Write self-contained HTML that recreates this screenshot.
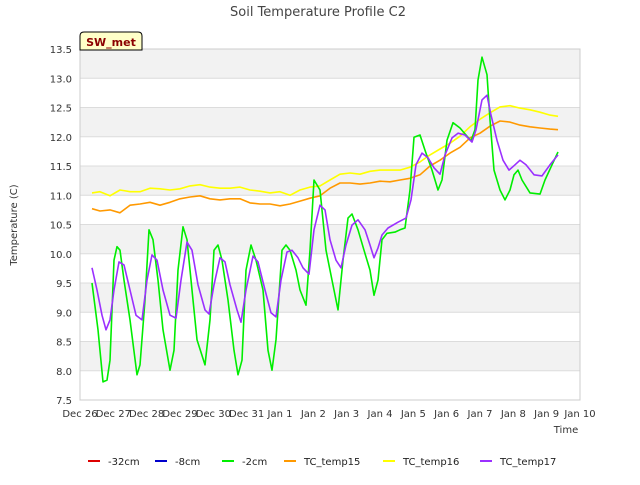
<!DOCTYPE html>
<html><head><meta charset="utf-8"><style>
body{margin:0;background:#fff;font-family:"Liberation Sans","DejaVu Sans",sans-serif;}
svg text{font-family:"DejaVu Sans","Liberation Sans",sans-serif;}
</style></head><body>
<svg id="chart" width="640" height="480" xmlns="http://www.w3.org/2000/svg">
<text x="318" y="16" text-anchor="middle" font-size="13" fill="#444">Soil Temperature Profile C2</text>
<g id="plot"></g>
<text transform="translate(17,225) rotate(-90)" text-anchor="middle" font-size="10" fill="#333">Temperature (C)</text>
<text x="566" y="433" text-anchor="middle" font-size="10" fill="#333">Time</text>
<g>
<path d="M80,50 L80,36 Q80,32 84,32 L138,32 Q142,32 142,36 L142,50 Z" fill="#ffffc8" stroke="#000" stroke-width="1"/>
<text x="111" y="46" text-anchor="middle" font-size="11" font-weight="bold" fill="#8b0000">SW_met</text>
</g>
<g id="legend"></g>
</svg>
<script>
const yTicks=[7.5,8.0,8.5,9.0,9.5,10.0,10.5,11.0,11.5,12.0,12.5,13.0,13.5];
const xTickLabels=["Dec 26","Dec 27","Dec 28","Dec 29","Dec 30","Dec 31","Jan 1","Jan 2","Jan 3","Jan 4","Jan 5","Jan 6","Jan 7","Jan 8","Jan 9","Jan 10"];
const gTimes=[0.36,0.54,0.69,0.81,0.90,1.02,1.11,1.20,1.32,1.50,1.71,1.80,1.95,2.07,2.19,2.34,2.49,2.70,2.82,2.94,3.09,3.21,3.36,3.51,3.75,3.90,4.02,4.14,4.26,4.44,4.62,4.74,4.86,4.98,5.13,5.28,5.49,5.64,5.76,5.88,6.06,6.18,6.30,6.48,6.60,6.78,6.90,7.02,7.20,7.38,7.56,7.74,7.89,8.04,8.16,8.34,8.52,8.70,8.82,8.94,9.06,9.21,9.45,9.60,9.75,9.90,10.02,10.20,10.35,10.56,10.74,10.86,11.01,11.19,11.40,11.58,11.73,11.85,11.94,12.06,12.21,12.30,12.42,12.60,12.75,12.90,13.02,13.14,13.26,13.50,13.80,13.95,14.16,14.34];
const gVals=[9.50,8.70,7.81,7.84,8.18,9.89,10.12,10.06,9.55,8.87,7.93,8.10,9.21,10.41,10.24,9.55,8.70,8.01,8.35,9.72,10.46,10.24,9.38,8.53,8.10,8.87,10.06,10.15,9.89,9.21,8.35,7.93,8.18,9.72,10.15,9.89,9.38,8.35,8.01,8.53,10.06,10.15,10.06,9.72,9.38,9.12,10.06,11.26,11.09,10.06,9.55,9.04,9.89,10.61,10.68,10.41,10.06,9.72,9.29,9.55,10.24,10.35,10.37,10.41,10.44,11.09,11.99,12.03,11.77,11.43,11.09,11.26,11.94,12.24,12.15,12.03,11.93,12.12,12.97,13.36,13.06,12.29,11.43,11.09,10.92,11.09,11.35,11.43,11.26,11.04,11.02,11.26,11.52,11.74];
const pTimes=[0.36,0.51,0.66,0.78,0.90,1.02,1.17,1.32,1.50,1.68,1.86,2.01,2.16,2.31,2.49,2.70,2.88,3.03,3.21,3.36,3.54,3.75,3.87,4.02,4.20,4.35,4.50,4.71,4.83,4.98,5.19,5.34,5.55,5.73,5.88,6.03,6.21,6.36,6.54,6.69,6.87,7.02,7.20,7.35,7.50,7.68,7.83,7.98,8.16,8.34,8.55,8.70,8.82,8.94,9.06,9.24,9.54,9.78,9.93,10.08,10.26,10.44,10.62,10.80,10.95,11.16,11.34,11.55,11.76,11.88,12.06,12.21,12.33,12.51,12.69,12.87,13.05,13.20,13.38,13.62,13.86,14.10,14.34];
const pVals=[9.76,9.38,8.95,8.70,8.87,9.38,9.86,9.81,9.38,8.95,8.87,9.55,9.98,9.89,9.38,8.95,8.90,9.55,10.20,10.06,9.47,9.04,8.97,9.47,9.93,9.86,9.47,9.04,8.83,9.38,9.96,9.86,9.38,8.99,8.92,9.55,10.03,10.06,9.93,9.76,9.65,10.41,10.83,10.75,10.24,9.89,9.76,10.15,10.49,10.58,10.41,10.15,9.93,10.10,10.32,10.44,10.54,10.61,10.92,11.52,11.72,11.64,11.47,11.36,11.69,11.98,12.06,12.03,11.91,12.12,12.63,12.71,12.37,11.94,11.60,11.43,11.52,11.60,11.52,11.35,11.33,11.52,11.69];
const oyTimes=[0.36,0.6,0.9,1.2,1.5,1.8,2.1,2.4,2.7,3.0,3.3,3.6,3.9,4.2,4.5,4.8,5.1,5.4,5.7,6.0,6.3,6.6,6.9,7.2,7.5,7.8,8.1,8.4,8.7,9.0,9.3,9.6,9.9,10.2,10.5,10.8,11.1,11.4,11.7,12.0,12.3,12.6,12.9,13.2,13.5,13.8,14.1,14.34];
const oVals=[10.77,10.73,10.75,10.70,10.83,10.85,10.88,10.83,10.88,10.94,10.97,10.99,10.94,10.92,10.94,10.94,10.87,10.85,10.85,10.82,10.85,10.90,10.95,10.99,11.12,11.21,11.21,11.19,11.21,11.24,11.23,11.26,11.29,11.35,11.50,11.60,11.72,11.82,11.98,12.06,12.18,12.27,12.25,12.20,12.17,12.15,12.13,12.12];
const yVals=[11.04,11.06,10.99,11.09,11.06,11.06,11.12,11.11,11.09,11.11,11.16,11.18,11.14,11.12,11.12,11.14,11.09,11.07,11.04,11.06,11.00,11.09,11.14,11.16,11.26,11.36,11.38,11.36,11.41,11.43,11.43,11.43,11.48,11.57,11.69,11.79,11.89,12.01,12.17,12.30,12.41,12.51,12.53,12.49,12.46,12.42,12.37,12.35];
const legendNames=["-32cm","-8cm","-2cm","TC_temp15","TC_temp16","TC_temp17"];
const legendColors=["#dd0000","#0000cc","#00ee00","#ff9900","#ffff00","#9b30ff"];

const NS="http://www.w3.org/2000/svg";
const X0=80,X1=580,Y0=49,Y1=400,D0=0,D1=15,V0=7.5,V1=13.5;
const xs=d=>X0+(d-D0)/(D1-D0)*(X1-X0);
const ys=v=>Y1-(v-V0)/(V1-V0)*(Y1-Y0);
const plot=document.getElementById('plot');
function mk(tag,attrs,parent){const e=document.createElementNS(NS,tag);for(const k in attrs)e.setAttribute(k,attrs[k]);parent.appendChild(e);return e;}
// bands
for(let i=0;i<yTicks.length-1;i++){
  if(i%2===1){const r=mk('rect',{x:X0,y:ys(yTicks[i+1]),width:X1-X0,height:ys(yTicks[i])-ys(yTicks[i+1]),fill:'#f2f2f2'},plot);
  
  }
}
yTicks.forEach(v=>{
  const l=mk('line',{x1:X0,x2:X1,y1:ys(v),y2:ys(v),stroke:'#dcdcdc','stroke-width':1},plot);
  
  
  const t=mk('text',{x:X0-8,y:ys(v)+4,'text-anchor':'end','font-size':10,fill:'#333'},plot);
  t.textContent=v.toFixed(1);
  
  
});
const frame=mk('rect',{x:X0,y:Y0,width:X1-X0,height:Y1-Y0,fill:'none',stroke:'#ccc'},plot);


xTickLabels.forEach((s,i)=>{
  const t=mk('text',{x:xs(i),y:Y1+17,'text-anchor':'middle','font-size':10,fill:'#333'},plot);
  t.textContent=s;
  
  
});
function series(times,vals,color,name){
  const p=mk('polyline',{points:times.map((t,i)=>xs(t).toFixed(1)+','+ys(vals[i]).toFixed(1)).join(' '),fill:'none',stroke:color,'stroke-width':1.6,'stroke-linejoin':'round'},plot);
  
  
}
series(oyTimes,yVals,'#ffff00','line-tc-temp16');
series(oyTimes,oVals,'#ff9900','line-tc-temp15');
series(gTimes,gVals,'#00ee00','line-2cm');
series(pTimes,pVals,'#9b30ff','line-tc-temp17');
// legend
const lg=document.getElementById('legend');
const lx=[88,155,222,284,383,480];
legendNames.forEach((n,i)=>{
  const g=mk('g',{},lg);
  
  
  mk('line',{x1:lx[i],x2:lx[i]+12,y1:461,y2:461,stroke:legendColors[i],'stroke-width':2},g);
  const t=mk('text',{x:lx[i]+20,y:465,'font-size':10,fill:'#222'},g);
  t.textContent=n;
});
</script>
</body></html>
